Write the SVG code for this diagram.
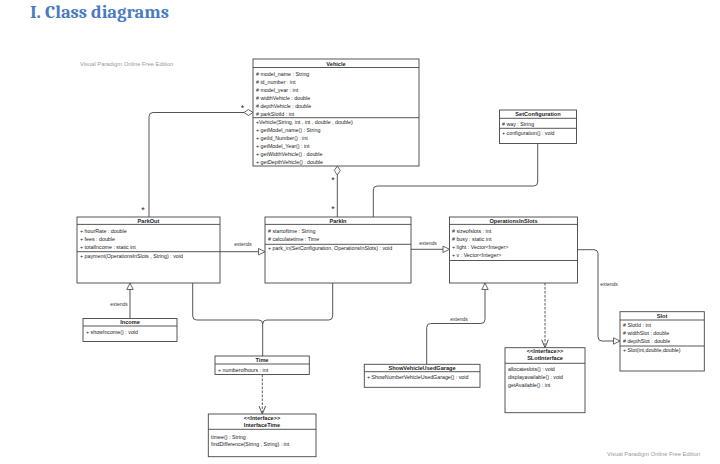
<svg xmlns="http://www.w3.org/2000/svg" width="720" height="464" viewBox="0 0 720 464">
<style>
text{font-family:"Liberation Sans",Arial,sans-serif;fill:#222;font-size:5.3px}
.t{font-weight:bold;text-anchor:middle;font-size:5.6px}
.box{fill:#fff;stroke:#444;stroke-width:0.9}
.sep{stroke:#444;stroke-width:0.9}
.ln{fill:none;stroke:#555;stroke-width:1}
.dash{fill:none;stroke:#555;stroke-width:1;stroke-dasharray:2.5,1.5}
.tri{fill:#fff;stroke:#555;stroke-width:0.9}
.lbl{text-anchor:middle;font-size:5px;fill:#333}
.star{text-anchor:middle;font-size:9px;fill:#333}
.wm{font-size:5.8px;fill:#999}
.title{font-family:Cambria,"Liberation Serif",serif;font-weight:bold;font-size:19px;fill:#4a7bbf}
</style>
<text class="title" x="30" y="18" textLength="139" lengthAdjust="spacingAndGlyphs">I. Class diagrams</text>
<text class="wm" x="80" y="66">Visual Paradigm Online Free Edition</text>
<text class="wm" x="607" y="455.5">Visual Paradigm Online Free Edition</text>

<g id="connectors">
  <path class="ln" d="M244,112.5 H153 Q149,112.5 149,116.5 V217"/>
  <polygon class="tri" points="253,112.5 248.5,109.5 244,112.5 248.5,115.5"/>
  <text class="star" x="242.5" y="111">*</text>
  <text class="star" x="143" y="213">*</text>
  <path class="ln" d="M337.3,175 V217"/>
  <polygon class="tri" points="337.3,166 340.3,170.5 337.3,175 334.3,170.5"/>
  <text class="star" x="333" y="183">*</text>
  <text class="star" x="333" y="212">*</text>
  <path class="ln" d="M537.7,143.5 V182 Q537.7,186 533.7,186 H377.3 Q373.3,186 373.3,190 V217"/>
  <path class="ln" d="M220,251.7 H258.5"/>
  <polygon class="tri" points="265,251.7 258.5,248.5 258.5,254.9"/>
  <text class="lbl" x="243" y="246">extends</text>
  <path class="ln" d="M411,249.3 H443"/>
  <polygon class="tri" points="449.5,249.3 443,246.1 443,252.5"/>
  <text class="lbl" x="428" y="245">extends</text>
  <path class="ln" d="M577.5,249.7 H594 Q598,249.7 598,253.7 V337 Q598,341 602,341 H613.5"/>
  <polygon class="tri" points="620,341 613.5,337.8 613.5,344.2"/>
  <text class="lbl" x="609" y="286">extends</text>
  <path class="ln" d="M130,318.5 V289.5"/>
  <polygon class="tri" points="130,283 126.8,289.5 133.2,289.5"/>
  <text class="lbl" x="119" y="305.5">extends</text>
  <path class="ln" d="M192.7,283 V316 Q192.7,320 196.7,320 H258.7 Q262.7,320 262.7,324 V356"/>
  <path class="ln" d="M332.7,283 V316 Q332.7,320 328.7,320 H266.7 Q262.7,320 262.7,324"/>
  <path class="dash" d="M262.3,374.5 V413.5"/>
  <path class="ln" d="M259,406 L262.3,414 L265.6,406"/>
  <path class="ln" d="M426.7,364.3 V327.5 Q426.7,323.5 430.7,323.5 H481 Q485,323.5 485,319.5 V289.5"/>
  <polygon class="tri" points="485,283 481.8,289.5 488.2,289.5"/>
  <text class="lbl" x="459" y="321">extends</text>
  <path class="dash" d="M545,283 V347"/>
  <path class="ln" d="M541.7,339.7 L545,347.7 L548.3,339.7"/>
</g>

<g id="Vehicle">
  <rect class="box" x="253" y="59" width="166" height="107"/>
  <line class="sep" x1="253" y1="67.5" x2="419" y2="67.5"/>
  <line class="sep" x1="253" y1="117.7" x2="419" y2="117.7"/>
  <text class="t" x="336" y="65.5">Vehicle</text>
  <text x="256" y="75.5"># model_name : String</text>
  <text x="256" y="83.5"># id_number : int</text>
  <text x="256" y="91.5"># model_year : int</text>
  <text x="256" y="99.5"># widthVehicle : double</text>
  <text x="256" y="107.5"># depthVehicle : double</text>
  <text x="256" y="115.5"># parkSlotId : int</text>
  <text x="256" y="123.7">+Vehicle(String, int , int , double , double)</text>
  <text x="256" y="131.7">+ getModel_name() : String</text>
  <text x="256" y="139.7">+ getId_Number() : int</text>
  <text x="256" y="147.7">+ getModel_Year() : int</text>
  <text x="256" y="155.7">+ getWidthVehicle() : double</text>
  <text x="256" y="163.7">+ getDepthVehicle() : double</text>
</g>

<g id="SetConfiguration">
  <rect class="box" x="499.5" y="110" width="77" height="33.5"/>
  <line class="sep" x1="499.5" y1="118.3" x2="576.5" y2="118.3"/>
  <line class="sep" x1="499.5" y1="128.3" x2="576.5" y2="128.3"/>
  <text class="t" x="538" y="116.2">SetConfiguration</text>
  <text x="502" y="126"># way : String</text>
  <text x="502" y="134.7">+ configuration() : void</text>
</g>

<g id="ParkOut">
  <rect class="box" x="77" y="217" width="143" height="66"/>
  <line class="sep" x1="77" y1="224.4" x2="220" y2="224.4"/>
  <line class="sep" x1="77" y1="251.7" x2="220" y2="251.7"/>
  <text class="t" x="148.5" y="222.6">ParkOut</text>
  <text x="80" y="233">+ hourRate : double</text>
  <text x="80" y="241">+ fees : double</text>
  <text x="80" y="249">+ totalIncome : static int</text>
  <text x="80" y="258">+ payment(OperationsInSlots , String) : void</text>
</g>

<g id="ParkIn">
  <rect class="box" x="265" y="217" width="146" height="66"/>
  <line class="sep" x1="265" y1="224.4" x2="411" y2="224.4"/>
  <line class="sep" x1="265" y1="244.3" x2="411" y2="244.3"/>
  <text class="t" x="338" y="222.6">ParkIn</text>
  <text x="268" y="233"># startoftime : String</text>
  <text x="268" y="241"># calculatetime : Time</text>
  <text x="268" y="250">+ park_in(SetConfiguration, OperationsInSlots) : void</text>
</g>

<g id="OperationsInSlots">
  <rect class="box" x="449.5" y="217" width="128" height="66"/>
  <line class="sep" x1="449.5" y1="224.4" x2="577.5" y2="224.4"/>
  <line class="sep" x1="449.5" y1="260.5" x2="577.5" y2="260.5"/>
  <text class="t" x="513.5" y="222.6">OperationsInSlots</text>
  <text x="452" y="233"># sizeofslots : int</text>
  <text x="452" y="241"># busy : static int</text>
  <text x="452" y="249">+ light : Vector&lt;Integer&gt;</text>
  <text x="452" y="257">+ v : Vector&lt;Integer&gt;</text>
</g>

<g id="Slot">
  <rect class="box" x="620" y="311.7" width="84.3" height="59.3"/>
  <line class="sep" x1="620" y1="320" x2="704.3" y2="320"/>
  <line class="sep" x1="620" y1="346" x2="704.3" y2="346"/>
  <text class="t" x="662" y="318">Slot</text>
  <text x="623" y="327.3"># SlotId : int</text>
  <text x="623" y="335.3"># widthSlot : double</text>
  <text x="623" y="343.3"># depthSlot : double</text>
  <text x="623" y="352.3">+ Slot(int,double,double)</text>
</g>

<g id="Income">
  <rect class="box" x="83" y="318.5" width="94" height="23"/>
  <line class="sep" x1="83" y1="326" x2="177" y2="326"/>
  <text class="t" x="130" y="324.3">Income</text>
  <text x="86" y="333.7">+ showIncome() : void</text>
</g>

<g id="Time">
  <rect class="box" x="215" y="356" width="94.3" height="18.5"/>
  <line class="sep" x1="215" y1="364" x2="309.3" y2="364"/>
  <text class="t" x="262" y="362.2">Time</text>
  <text x="218" y="372">+ numberofhours : int</text>
</g>

<g id="InterfaceTime">
  <rect class="box" x="208.3" y="414" width="107.7" height="42.7"/>
  <line class="sep" x1="208.3" y1="429.3" x2="316" y2="429.3"/>
  <text class="t" x="262" y="420.3">&lt;&lt;Interface&gt;&gt;</text>
  <text class="t" x="262" y="427">InterfaceTime</text>
  <text x="211" y="438.7">timee() : String</text>
  <text x="211" y="446">findDifference(String , String) : int</text>
</g>

<g id="ShowVehicleUsedGarage">
  <rect class="box" x="364.3" y="364.3" width="115.7" height="23"/>
  <line class="sep" x1="364.3" y1="371.7" x2="480" y2="371.7"/>
  <text class="t" x="422" y="370">ShowVehicleUsedGarage</text>
  <text x="367" y="379.3">+ ShowNumberVehicleUsedGarage() : void</text>
</g>

<g id="SLotInterface">
  <rect class="box" x="505" y="347.7" width="80" height="65"/>
  <line class="sep" x1="505" y1="363.3" x2="585" y2="363.3"/>
  <text class="t" x="545" y="353.2">&lt;&lt;Interface&gt;&gt;</text>
  <text class="t" x="545" y="360.3">SLotInterface</text>
  <text x="508" y="371.3">allocateslots() : void</text>
  <text x="508" y="379.3">displayavailable() : void</text>
  <text x="508" y="387.3">getAvailable() : int</text>
</g>
</svg>
